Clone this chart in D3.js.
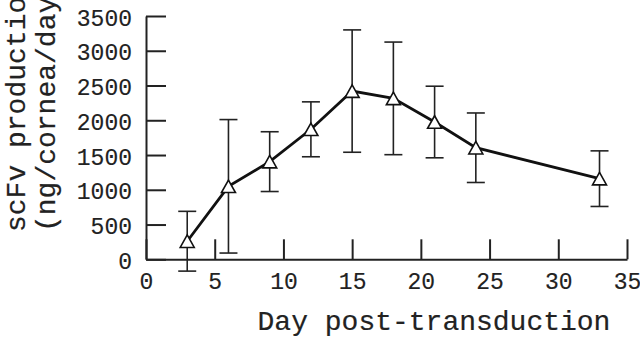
<!DOCTYPE html>
<html><head><meta charset="utf-8">
<script src="https://cdn.jsdelivr.net/npm/d3@7"></script>
<style>body{margin:0;background:#fff}svg{display:block}</style>
</head><body>
<svg id="c" width="640" height="338"></svg>
<script>
const days = [3, 6, 9, 12, 15, 18, 21, 24, 33];
const means = [260, 1050, 1405, 1870, 2420, 2315, 1975, 1605, 1160];
const errors = [430, 960, 430, 395, 880, 810, 515, 500, 400];
const xTicks = [0, 5, 10, 15, 20, 25, 30, 35];
const yTicks = [0, 500, 1000, 1500, 2000, 2500, 3000, 3500];
const xTitle = "Day post-transduction";
const yTitle = ["scFv production", "(ng/cornea/day)"];

const font = '"Liberation Mono","Courier New",monospace';
const svg = d3.select("#c");
const x = d3.scaleLinear().domain([0, 35]).range([146, 627]);
const y = d3.scaleLinear().domain([0, 3500]).range([259.3, 16]);

const data = days.map((d, i) => ({d, m: means[i], e: errors[i]}));

// axes
const yAxis = d3.axisLeft(y).tickValues(yTicks).tickFormat(d3.format("d"))
  .tickSizeInner(-20).tickSizeOuter(0).tickPadding(14);
const xAxis = d3.axisBottom(x).tickValues(xTicks).tickFormat(d3.format("d"))
  .tickSizeInner(-20).tickSizeOuter(0).tickPadding(13);
const gy = svg.append("g").attr("transform", `translate(${x(0)},0)`).call(yAxis);
const gx = svg.append("g").attr("transform", `translate(0,${y(0)})`).call(xAxis);
[gx, gy].forEach(g => {
  g.selectAll("path,line").attr("stroke", "#222").attr("stroke-width", 2);
  g.selectAll("text").attr("fill", "#222").attr("stroke", "#222").attr("stroke-width", 0.15)
    .style("font-family", font).style("font-size", "23px");
});
gy.selectAll("text").attr("dy", "0.4em");

// error bars
const eb = svg.append("g").attr("stroke", "#222").attr("stroke-width", 1.6).attr("fill", "none");
data.forEach(p => {
  eb.append("line").attr("x1", x(p.d)).attr("x2", x(p.d)).attr("y1", y(p.m + p.e)).attr("y2", y(p.m - p.e));
  [p.m + p.e, p.m - p.e].forEach(v => {
    eb.append("line").attr("x1", x(p.d) - 9).attr("x2", x(p.d) + 9).attr("y1", y(v)).attr("y2", y(v));
  });
});

// line
svg.append("path").datum(data)
  .attr("d", d3.line().x(p => x(p.d)).y(p => y(p.m)))
  .attr("fill", "none").attr("stroke", "#111").attr("stroke-width", 2.8);

// triangles
const tri = (cx, cy) => {
  const h = 12.5, w = 14;
  return `M${cx},${cy - h / 2}L${cx + w / 2},${cy + h / 2}L${cx - w / 2},${cy + h / 2}Z`;
};
svg.append("g").selectAll("path").data(data).join("path")
  .attr("d", p => tri(x(p.d), y(p.m)))
  .attr("fill", "#fff").attr("stroke", "#111").attr("stroke-width", 1.6);

// titles
svg.append("text").attr("x", 434).attr("y", 330).attr("text-anchor", "middle")
  .attr("stroke", "#222").attr("stroke-width", 0.2)
  .style("font-family", font).style("font-size", "28px").attr("fill", "#222").text(xTitle);
const yt = svg.append("text").attr("transform", "translate(25,232) rotate(-90)")
  .attr("stroke", "#222").attr("stroke-width", 0.2)
  .style("font-family", font).style("font-size", "28px").attr("fill", "#222");
yTitle.forEach((t, i) => yt.append("tspan").attr("x", 0).attr("y", i * 30).text(t));
</script>
</body></html>
